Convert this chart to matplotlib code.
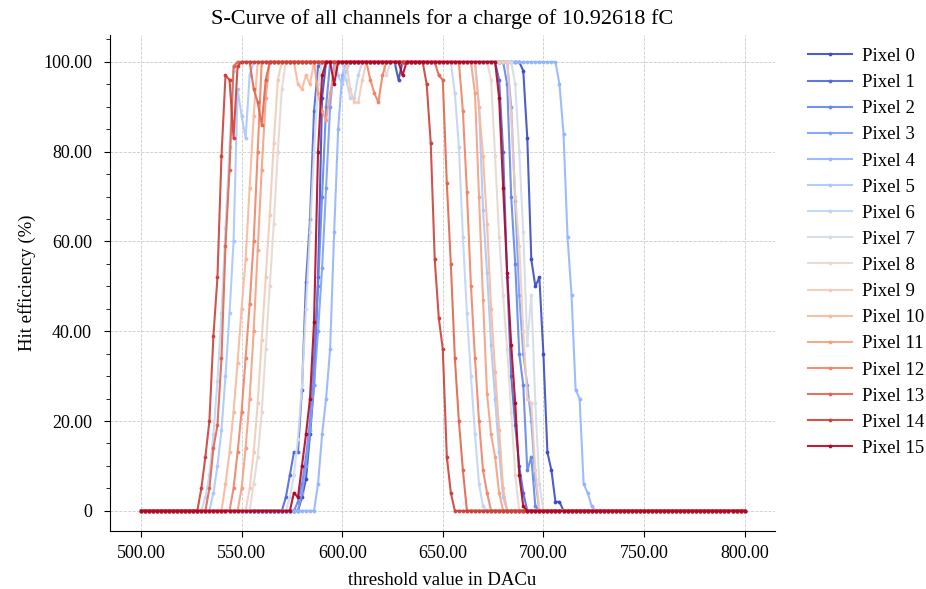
import numpy as np
import matplotlib
matplotlib.use("Agg")
import matplotlib.pyplot as plt
from matplotlib.ticker import FuncFormatter, MultipleLocator

plt.rcParams['font.family'] = ['Liberation Serif', 'DejaVu Serif']

# threshold scan (DACu)
thresholds = list(range(500, 802, 2))

# Each pixel: rising edge (start DAC, values), falling edge (start DAC, values),
# and dips on the plateau {DAC: efficiency}
rise_start = [578, 570, 576, 578, 586, 534, 530, 572, 554, 552, 540, 548, 544, 532, 528, 574]
rise_vals = [
    [0, 3, 7, 17, 28, 52, 92, 100],
    [0, 3, 8, 13, 13, 27, 51, 65, 89, 99, 100],
    [0, 2, 6, 12, 20, 34, 50, 70, 90, 100],
    [0, 4, 10, 18, 28, 40, 54, 72, 90, 100],
    [0, 6, 17, 25, 36, 62, 85, 97, 100],
    [0, 4, 10, 18, 30, 44, 60, 94, 88, 83, 97, 100],
    [0, 3, 8, 17, 29, 44, 63, 81, 98, 100],
    [0, 3, 8, 16, 28, 45, 62, 80, 95, 100],
    [0, 6, 12, 22, 36, 50, 64, 80, 94, 100],
    [0, 5, 13, 24, 38, 52, 66, 82, 96, 100],
    [0, 6, 13, 22, 33, 45, 56, 72, 88, 100],
    [0, 5, 14, 25, 40, 58, 76, 92, 100],
    [0, 5, 13, 22, 34, 46, 60, 80, 100],
    [0, 5, 14, 19, 34, 59, 76, 99, 100],
    [0, 5, 12, 20, 39, 52, 79, 97, 96, 83, 99, 100],
    [0, 4, 3, 10, 17, 25, 42, 80, 97, 100],
]
fall_start = [688, 676, 680, 682, 706, 666, 654, 684, 672, 682, 666, 664, 658, 646, 640, 676]
fall_vals = [
    [100, 98, 83, 56, 50, 52, 35, 13, 9, 2, 2, 0],
    [100, 96, 80, 52, 30, 19, 10, 4, 0],
    [100, 95, 70, 55, 35, 28, 9, 12, 1, 0],
    [100, 90, 69, 48, 35, 28, 20, 7, 0],
    [100, 95, 84, 61, 48, 27, 25, 6, 4, 1, 0],
    [100, 90, 67, 53, 37, 25, 13, 3, 0],
    [100, 93, 81, 61, 44, 30, 17, 6, 1, 0],
    [100, 95, 80, 62, 37, 48, 24, 6, 0],
    [100, 96, 79, 61, 48, 36, 22, 8, 0],
    [100, 88, 70, 59, 40, 25, 24, 9, 0],
    [100, 90, 79, 64, 45, 31, 18, 5, 0],
    [100, 93, 70, 47, 26, 17, 12, 4, 0],
    [100, 89, 71, 50, 34, 20, 9, 4, 0],
    [100, 97, 96, 73, 55, 34, 20, 9, 0],
    [100, 95, 82, 56, 43, 36, 12, 4, 0],
    [100, 92, 72, 53, 37, 24, 8, 1, 0],
]
plateau_dips = [
    {628: 96},
    {},
    {},
    {},
    {},
    {598: 97, 600: 95, 602: 98},
    {602: 96, 604: 92, 606: 92, 608: 97},
    {},
    {622: 97},
    {604: 94, 606: 91, 608: 91, 610: 96},
    {578: 95, 580: 94, 582: 97, 584: 95},
    {588: 93, 590: 89, 592: 87, 594: 93, 596: 98},
    {614: 96, 616: 93, 618: 91, 620: 97},
    {556: 94, 558: 91, 560: 86, 562: 96},
    {},
    {596: 95, 630: 97},
]
labels = [f"Pixel {i}" for i in range(16)]
charge = "10.92618"


def build_series(i):
    out = []
    r0, rv = rise_start[i], rise_vals[i]
    f0, fv = fall_start[i], fall_vals[i]
    for t in thresholds:
        if t < r0:
            out.append(0.0)
        elif t < r0 + 2 * len(rv):
            out.append(rv[(t - r0) // 2])
        elif t < f0:
            out.append(plateau_dips[i].get(t, 100.0))
        elif t < f0 + 2 * len(fv):
            out.append(fv[(t - f0) // 2])
        else:
            out.append(0.0)
    return out


fig = plt.figure(figsize=(9.26, 5.89), dpi=100)
ax = fig.add_axes([0.1188, 0.0985, 0.7181, 0.8421])
cmap = plt.get_cmap('coolwarm')
for i in range(16):
    ax.plot(thresholds, build_series(i), marker='.', markersize=3.5, linewidth=1.5,
            color=cmap(i / 15), alpha=0.9, label=labels[i])

ax.set_xlim(484.6, 815.1)
ax.set_ylim(-4.5, 106)
ax.set_title(f"S-Curve of all channels for a charge of {charge} fC", fontsize=16, pad=8)
ax.set_xlabel("threshold value in DACu", fontsize=13.5, labelpad=7)
ax.set_ylabel("Hit efficiency (%)", fontsize=13.5, labelpad=5)
ax.xaxis.set_major_locator(MultipleLocator(50))
ax.yaxis.set_major_locator(MultipleLocator(20))
ax.yaxis.set_minor_locator(MultipleLocator(5))
ax.xaxis.set_major_formatter(FuncFormatter(lambda v, p: f"{v:.2f}"))
ax.yaxis.set_major_formatter(FuncFormatter(lambda v, p: "0" if v == 0 else f"{v:.2f}"))
ax.tick_params(labelsize=13)
ax.tick_params(axis='y', which='major', length=4.5, pad=8.5)
ax.tick_params(axis='y', which='minor', length=3)
ax.tick_params(axis='x', which='major', length=4.5, pad=5.5)
ax.grid(True, which='major', linestyle='--', linewidth=0.6, color='#cccccc')
ax.spines['top'].set_visible(False)
ax.spines['right'].set_visible(False)
ax.legend(loc='upper left', bbox_to_anchor=(1.025, 1.008), frameon=False, fontsize=13.5,
          handlelength=2.3, handletextpad=0.55, labelspacing=0.48)

fig.savefig("out.png", dpi=100)
